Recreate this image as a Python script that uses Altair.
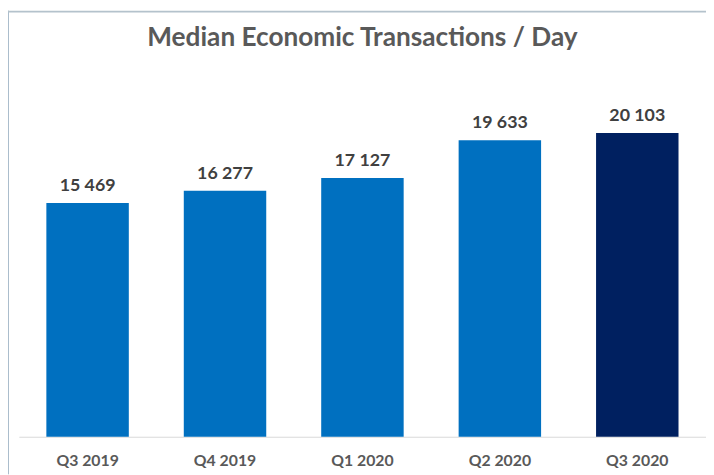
import altair as alt
import pandas as pd

quarters = ["Q3 2019", "Q4 2019", "Q1 2020", "Q2 2020", "Q3 2020"]
values = [15469, 16277, 17127, 19633, 20103]
groups = ["past", "past", "past", "past", "latest"]
title_text = "Median Economic Transactions / Day"

df = pd.DataFrame({"quarter": quarters, "value": values, "group": groups})
df["label"] = [f"{v:,}".replace(",", " ") for v in values]

FONT = "Lato"

x = alt.X(
    "quarter:N",
    sort=quarters,
    scale=alt.Scale(paddingInner=0.4, paddingOuter=0.2),
    axis=alt.Axis(
        title=None, labelAngle=0, ticks=False, domainColor="#d9d9d9", domainWidth=1,
        labelFont=FONT, labelFontSize=16, labelFontWeight="bold",
        labelColor="#595959", labelPadding=16,
    ),
)
y = alt.Y("value:Q", scale=alt.Scale(domain=[0, 25000]), axis=None)

bars = alt.Chart(df).mark_bar().encode(
    x=x, y=y,
    color=alt.Color("group:N", scale=alt.Scale(domain=["past", "latest"],
                                               range=["#0070c0", "#002060"]), legend=None),
)
labels = alt.Chart(df).mark_text(
    dy=-8, baseline="bottom", font=FONT, fontSize=18, fontWeight="bold", color="#404040"
).encode(x=x, y=y, text="label:N")

frame = alt.Data(values=[{"t": title_text}])
left_line = alt.Chart(frame).mark_rule(color="#a9bccb", strokeWidth=1).encode(
    x=alt.value(-10.5), y=alt.value(-49), y2=alt.value(420)
)
top_line = alt.Chart(frame).mark_rule(color="#b4c2cc", strokeWidth=2).encode(
    x=alt.value(-11), x2=alt.value(700), y=alt.value(-48)
)
title = alt.Chart(frame).mark_text(
    font=FONT, fontSize=26.5, fontWeight="bold", color="#595959",
    align="center", baseline="alphabetic",
).encode(x=alt.value(347.5), y=alt.value(-13), text="t:N")

chart = alt.layer(left_line, top_line, bars, labels, title).properties(
    width=695, height=382,
    autosize=alt.AutoSizeParams(type="none"),
    padding={"left": 11, "top": 49, "right": 0, "bottom": 36},
).configure_view(stroke=None)

chart.save("out.html", embed_options={"renderer": "svg", "actions": False})
